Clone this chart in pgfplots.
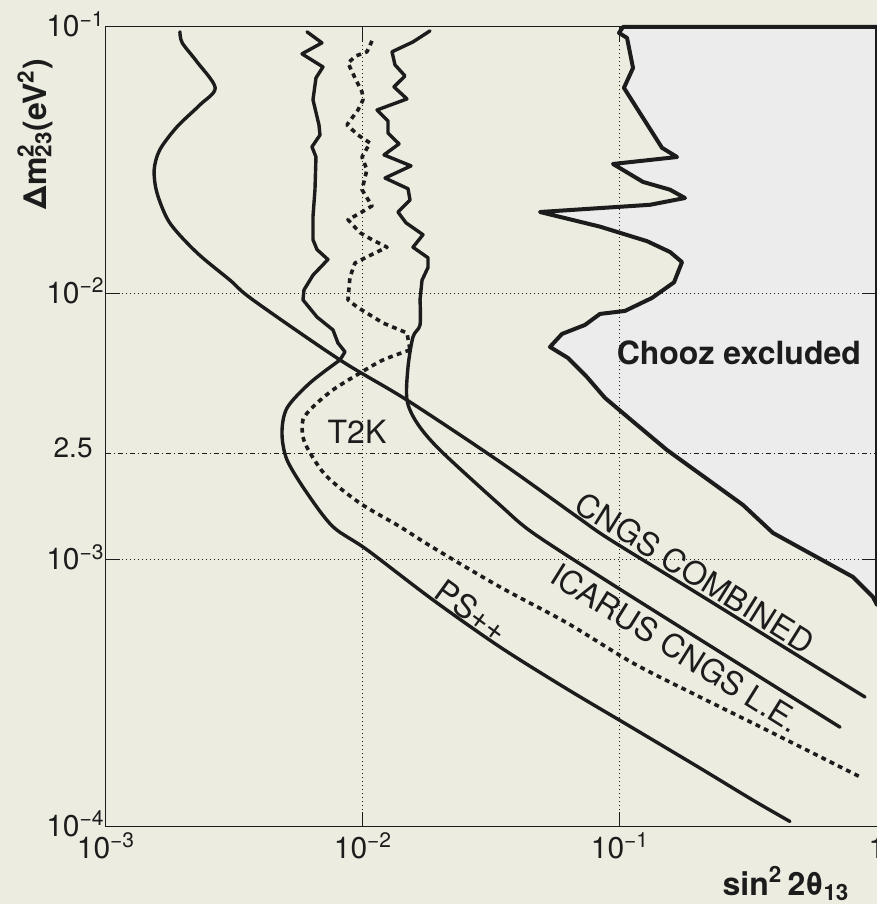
\documentclass[border=0pt]{standalone}
\usepackage{pgfplots}
\pgfplotsset{compat=1.18}
\usepackage{fontspec}
\setmainfont{TeX Gyre Heros}
\definecolor{paper}{RGB}{236,236,225}
\definecolor{choozfill}{RGB}{236,236,236}
\definecolor{ink}{RGB}{28,28,28}
\newcommand{\dec}[1]{10\textsuperscript{−#1}}
\tikzset{
  curve/.style={ink, line width=1.7pt, line join=round, line cap=round, mark=none},
  dotcurve/.style={ink, line width=1.8pt, line join=round, line cap=butt,
    dash pattern=on 2.4pt off 2.2pt, mark=none},
  lbl/.style={font=\fontsize{16}{19}\selectfont, text=ink, inner sep=0pt},
}

\begin{document}
\begin{tikzpicture}
\fill[paper] (-53pt,-39pt) rectangle (385.5pt,413pt);
\begin{axis}[
  at={(0pt,0pt)}, anchor=south west,
  scale only axis, width=385.5pt, height=399.5pt,
  xmode=log, ymode=log,
  xmin=1e-3, xmax=1, ymin=1e-4, ymax=1e-1,
  xtick={1e-3,1e-2,1e-1,1},
  xticklabels={\dec{3},\dec{2},\dec{1},1},
  ytick={1e-4,1e-3,1e-2,1e-1},
  yticklabels={\dec{4},\dec{3},\dec{2},\dec{1}},
  extra y ticks={2.5e-3},
  extra y tick labels={2.5},
  extra y tick style={
    major tick length=0pt,
    ymajorgrids=true,
    major grid style={ink, line width=0.5pt, dash pattern=on 2.5pt off 1.5pt on 0.5pt off 1.5pt},
    yticklabel style={xshift=-6pt, yshift=3pt, font=\fontsize{14}{16}\selectfont},
  },
  xminorticks=false, yminorticks=false,
  tick align=inside, major tick length=7pt,
  tick style={ink, line width=0.5pt},
  axis line style={ink, line width=0.5pt},
  xmajorgrids=true, ymajorgrids=true,
  major grid style={ink, line width=0.5pt, dash pattern=on 0.5pt off 1.5pt},
  axis on top=true,
  clip=false,
  ticklabel style={font=\fontsize{15}{17}\selectfont, text=ink},
  xticklabel style={anchor=base, inner sep=0pt, yshift=-16pt},
  yticklabel style={anchor=base east, inner sep=0pt, xshift=-0.5pt, yshift=-5pt},
  xlabel={\bfseries sin\textsuperscript{2}\,2θ\textsubscript{13}},
  xlabel style={at={(rel axis cs:0.882,-0.072)}, anchor=center,
    font=\fontsize{16}{19}\selectfont, text=ink},
  ylabel={\bfseries Δm\rlap{\textsuperscript{2}}\textsubscript{23}(eV\textsuperscript{2})},
  ylabel style={at={(rel axis cs:-0.092,0.866)}, anchor=center,
    font=\fontsize{16}{19}\selectfont, text=ink},
]

% Chooz excluded region
\addplot[draw=ink, line width=2pt, fill=choozfill, line join=round, mark=none]
  coordinates {
  (0.1027,0.1) (9.911e-2,9.50e-2) (0.1065,9.10e-2) (0.1124,7.02e-2) (0.1036,5.91e-2)
  (0.1457,3.52e-2) (0.1667,3.25e-2) (9.393e-2,3.06e-2) (0.1229,2.62e-2) (0.1565,2.45e-2)
  (0.1790,2.28e-2) (0.1308,2.15e-2) (4.884e-2,2.02e-2) (8.36e-2,1.78e-2) (0.1274,1.57e-2)
  (0.1565,1.43e-2) (0.1743,1.31e-2) (0.1623,1.10e-2) (0.1332,9.61e-3) (0.1046,8.59e-3)
  (8.36e-2,8.37e-3) (7.306e-2,7.61e-3) (5.946e-2,7.04e-3) (5.340e-2,6.29e-3) (6.276e-2,5.72e-3)
  (7.438e-2,4.85e-3) (8.740e-2,4.05e-3) (0.1154,3.23e-3) (0.1524,2.58e-3) (0.3010,1.605e-3)
  (0.3938,1.26e-3) (0.8066,8.61e-4) (0.9647,7.24e-4) (1,6.76e-4) (1,0.1)
  } -- cycle;

% CNGS combined
\addplot[curve, smooth, tension=0.5] coordinates {
  (1.94e-3,9.59e-2) (1.98e-3,8.72e-2) (2.26e-3,7.40e-2) (2.66e-3,5.91e-2) (2.32e-3,5.10e-2)
  (1.89e-3,4.22e-2) (1.62e-3,3.46e-2) (1.54e-3,2.91e-2) (1.58e-3,2.38e-2) (1.77e-3,1.84e-2)
  (2.26e-3,1.42e-2) (3.04e-3,1.12e-2) (3.73e-3,9.45e-3) (8.14e-3,5.62e-3) (1.48e-2,3.98e-3)
  (3.41e-2,2.33e-3) (6.80e-2,1.45e-3) (9.14e-2,1.19e-3) (0.205,7.37e-4) (0.502,4.31e-4)
  (0.898,3.05e-4)
};

% ICARUS CNGS L.E.
\addplot[curve, sharp plot] coordinates {
  (1.823e-2,9.67e-2) (1.565e-2,8.79e-2) (1.297e-2,8.07e-2) (1.332e-2,7.21e-2) (1.457e-2,6.55e-2)
  (1.320e-2,5.96e-2) (1.483e-2,5.37e-2) (1.134e-2,4.88e-2) (1.251e-2,4.44e-2) (1.251e-2,4.00e-2)
  (1.381e-2,3.64e-2) (1.207e-2,3.31e-2) (1.538e-2,3.01e-2) (1.218e-2,2.71e-2) (1.497e-2,2.47e-2)
  (1.524e-2,2.24e-2) (1.368e-2,2.02e-2) (1.470e-2,1.84e-2) (1.712e-2,1.66e-2) (1.565e-2,1.49e-2)
  (1.790e-2,1.36e-2) (1.790e-2,1.25e-2) (1.697e-2,1.12e-2) (1.667e-2,9.45e-3)
};
\addplot[curve, smooth, tension=0.5] coordinates {
  (1.667e-2,9.45e-3) (1.667e-2,7.61e-3) (1.565e-2,6.86e-3) (1.497e-2,5.29e-3) (1.483e-2,3.98e-3)
  (1.623e-2,3.26e-3) (1.994e-2,2.58e-3) (3.41e-2,1.605e-3) (4.586e-2,1.26e-3) (9.14e-2,8.18e-4)
  (0.245,4.50e-4) (0.718,2.35e-4)
};

% PS++
\addplot[curve, sharp plot] coordinates {
  (6.055e-3,9.59e-2) (6.925e-3,8.72e-2) (5.789e-3,7.93e-2) (6.987e-3,7.08e-2) (6.563e-3,6.44e-2)
  (6.389e-3,5.33e-2) (6.741e-3,4.29e-2) (6.802e-3,3.93e-2) (6.332e-3,3.55e-2) (6.563e-3,3.25e-2)
  (6.504e-3,2.45e-2) (6.389e-3,1.94e-2) (6.389e-3,1.59e-2) (6.622e-3,1.46e-2) (7.306e-3,1.34e-2)
  (6.389e-3,1.17e-2) (5.894e-3,1.03e-2) (5.841e-3,9.45e-3) (6.622e-3,8.15e-3) (7.641e-3,7.29e-3)
  (7.992e-3,6.51e-3) (8.511e-3,6.03e-3) (8.137e-3,5.62e-3)
};
\addplot[curve, smooth, tension=0.5] coordinates {
  (8.137e-3,5.62e-3) (6.219e-3,4.61e-3) (5.062e-3,3.71e-3) (4.840e-3,2.99e-3) (5.062e-3,2.37e-3)
  (6.055e-3,1.78e-3) (7.641e-3,1.33e-3) (1.036e-2,1.09e-3) (1.873e-2,7.06e-4) (3.413e-2,4.70e-4)
  (6.22e-2,3.27e-4) (0.1124,2.33e-4) (0.2048,1.65e-4) (0.3292,1.25e-4) (0.4586,1.04e-4)
};

% T2K
\addplot[dotcurve, sharp plot] coordinates {
  (1.084e-2,8.87e-2) (1.036e-2,8.07e-2) (9.393e-3,7.79e-2) (8.741e-3,7.33e-2) (9.309e-3,6.44e-2)
  (9.911e-3,5.71e-2) (1.0e-2,5.33e-2) (9.561e-3,4.88e-2) (8.663e-3,4.29e-2) (9.561e-3,3.93e-2)
  (1.065e-2,3.67e-2) (9.911e-3,3.25e-2) (1.036e-2,2.91e-2) (9.911e-3,2.45e-2) (1.084e-2,2.13e-2)
  (9.734e-3,2.00e-2) (8.741e-3,1.89e-2) (9.734e-3,1.69e-2) (1.084e-2,1.59e-2) (1.240e-2,1.49e-2)
  (1.036e-2,1.37e-2) (9.309e-3,1.30e-2) (8.899e-3,1.15e-2) (8.741e-3,9.45e-3) (9.477e-3,8.89e-3)
  (1.196e-2,7.74e-3) (1.483e-2,7.10e-3) (1.524e-2,6.13e-3)
};
\addplot[dotcurve, smooth, tension=0.5] coordinates {
  (1.524e-2,6.13e-3) (1.196e-2,5.62e-3) (9.734e-3,5.02e-3) (7.641e-3,4.34e-3) (6.389e-3,3.75e-3)
  (5.841e-3,3.35e-3) (5.841e-3,2.89e-3) (6.219e-3,2.52e-3) (7.241e-3,2.05e-3) (9.734e-3,1.63e-3)
  (1.393e-2,1.33e-3) (1.873e-2,1.11e-3) (3.413e-2,7.90e-4) (6.22e-2,5.79e-4) (0.1124,4.09e-4)
  (0.2048,3.05e-4) (0.3733,2.29e-4) (0.859,1.53e-4)
};

% curve labels
\node[lbl] at (axis cs:9.48e-3,3.02e-3) {T2K};
\node[lbl, rotate=-32] at (axis cs:0.196,8.91e-4) {CNGS COMBINED};
\node[lbl, rotate=-32] at (axis cs:0.165,4.66e-4) {ICARUS CNGS L.E.};
\node[lbl, rotate=-36] at (axis cs:2.66e-2,6.42e-4) {PS++};
\node[lbl, font=\fontsize{16}{19}\selectfont\bfseries] at (axis cs:0.290,5.97e-3) {Chooz excluded};
\end{axis}
\pgfresetboundingbox
\useasboundingbox (-53pt,-39pt) rectangle (385.5pt,413pt);
\end{tikzpicture}
\end{document}
